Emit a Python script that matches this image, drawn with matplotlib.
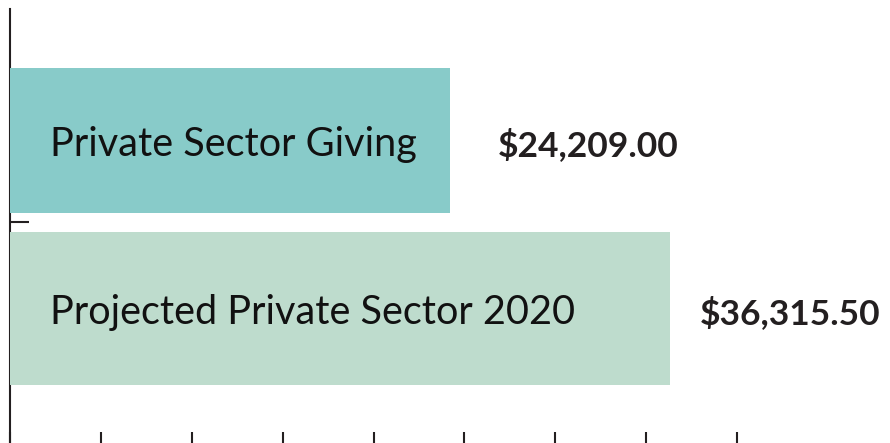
import numpy as np
import matplotlib
matplotlib.use('Agg')
import matplotlib.pyplot as plt

categories = ['Private Sector Giving', 'Projected Private Sector 2020']
values = [24209.00, 36315.50]
value_labels = ['$24,209.00', '$36,315.50']
x_ticks = [0, 5000, 10000, 15000, 20000, 25000, 30000, 35000, 40000]

bar_colors = ['#88CBC9', '#BEDCCD']
bar_heights = [0.863, 0.911]
label_pad = [48, 30]  # px gap between bar end and value label
text_color = '#231F20'

plt.rcParams['font.family'] = ['Lato', 'DejaVu Sans']

fig = plt.figure(figsize=(8.9, 4.43), dpi=100)
ax = fig.add_axes([10.3 / 890, 0, 1 - 10.3 / 890, (443 - 9) / 443])

y = np.arange(len(categories))
ax.barh(y, values, height=bar_heights, color=bar_colors, zorder=3)

ax.set_xlim(0, (890 - 10.3) / 0.018165)
ax.set_ylim(1.8006, -0.783)

for i, (cat, val, lab) in enumerate(zip(categories, values, value_labels)):
    ax.annotate(cat, (0, i), xytext=(28.5, -3), textcoords='offset points',
                fontsize=28.5, color='#111111', va='center', ha='left', zorder=4)
    ax.annotate(lab, (val, i), xytext=(label_pad[i] * 0.72, -3.5), textcoords='offset points',
                fontsize=25.5, fontweight='bold', color=text_color, va='center', ha='left')

for s in ['top', 'right', 'bottom']:
    ax.spines[s].set_visible(False)
ax.spines['left'].set_color(text_color)
ax.spines['left'].set_linewidth(1.5)
ax.spines['left'].set_zorder(1)

ax.set_xticks(x_ticks)
ax.set_xticklabels([])
ax.tick_params(axis='x', direction='in', length=8, width=1.5, color=text_color)
ax.set_yticks([0.485])
ax.set_yticklabels([])
ax.tick_params(axis='y', direction='in', length=13.5, width=1.5, color=text_color)

fig.savefig('out.png', dpi=100)
